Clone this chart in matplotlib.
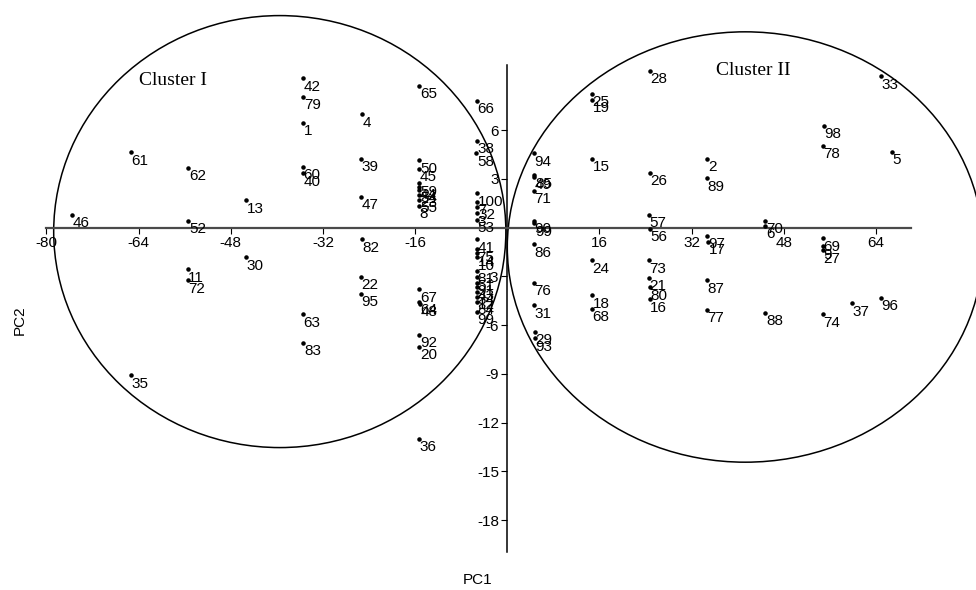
import matplotlib
matplotlib.use("Agg")
import matplotlib.pyplot as plt
from matplotlib.patches import Ellipse

# -------- DATA --------
labels = [
    "46", "61", "35",
    "62", "52", "11", "72", "13", "30",
    "42", "79", "1", "60", "40", "63", "83",
    "4", "39", "47", "82", "22", "95",
    "65", "50", "45", "59", "44", "54", "23", "55", "8",
    "67", "64", "48", "92", "20", "36",
    "66", "38", "58", "100", "7", "32", "3", "53",
    "41", "75", "14", "10", "81", "51", "91", "43", "34", "12", "84", "99",
    "94", "85", "49", "71", "90", "99", "86", "76", "31", "29", "93",
    "25", "19", "15", "24", "18", "68",
    "28", "26", "57", "56", "73", "21", "80", "16",
    "2", "89", "97", "17", "87", "77",
    "70", "6", "88",
    "98", "78", "69", "9", "27", "74",
    "37", "33", "96", "5",
]
pc1 = [
    -75.5, -65.4, -65.4,
    -55.4, -55.4, -55.5, -55.5, -45.4, -45.4,
    -35.4, -35.4, -35.4, -35.5, -35.4, -35.5, -35.4,
    -25.2, -25.4, -25.4, -25.3, -25.4, -25.4,
    -15.3, -15.3, -15.3, -15.3, -15.3, -15.3, -15.3, -15.3, -15.3,
    -15.3, -15.3, -15.2, -15.3, -15.3, -15.3,
    -5.3, -5.3, -5.4, -5.2, -5.2, -5.2, -5.3, -5.3,
    -5.3, -5.3, -5.3, -5.3, -5.3, -5.3, -5.3, -5.3, -5.3, -5.3, -5.3, -5.3,
    4.6, 4.7, 4.7, 4.6, 4.6, 4.7, 4.6, 4.6, 4.6, 4.8, 4.8,
    14.7, 14.7, 14.7, 14.7, 14.7, 14.7,
    24.7, 24.7, 24.6, 24.7, 24.6, 24.6, 24.7, 24.7,
    34.7, 34.7, 34.7, 34.9, 34.7, 34.6,
    44.8, 44.8, 44.8,
    54.9, 54.8, 54.8, 54.8, 54.8, 54.8,
    59.8, 64.8, 64.8, 66.8,
]
pc2 = [
    0.78, 4.64, -9.08,
    3.69, 0.41, -2.56, -3.24, 1.69, -1.82,
    9.20, 8.05, 6.45, 3.76, 3.35, -5.33, -7.08,
    6.98, 4.23, 1.89, -0.72, -3.02, -4.08,
    8.73, 4.15, 3.63, 2.73, 2.52, 2.32, 2.01, 1.71, 1.35,
    -3.79, -4.55, -4.68, -6.61, -7.33, -13.01,
    7.82, 5.34, 4.58, 2.12, 1.60, 1.30, 0.89, 0.47,
    -0.72, -1.33, -1.58, -1.82, -2.65, -3.05, -3.39, -3.67, -3.94, -4.25, -4.56, -5.17,
    4.58, 3.23, 3.15, 2.28, 0.43, 0.27, -1.02, -3.41, -4.78, -6.42, -6.81,
    8.25, 7.86, 4.25, -2.01, -4.16, -5.01,
    9.65, 3.39, 0.78, -0.06, -2.01, -3.08, -3.67, -4.41,
    4.25, 3.04, -0.51, -0.86, -3.24, -5.07,
    0.41, 0.12, -5.23,
    6.28, 5.03, -0.65, -1.15, -1.40, -5.33,
    -4.66, 9.32, -4.31, 4.68,
]
x_ticks = [-80, -64, -48, -32, -16, 16, 32, 48, 64]
y_ticks = [6, 3, -3, -6, -9, -12, -15, -18]

# cluster outlines: name, centre x, centre y, width, height, label x, label y
clusters = [
    ("Cluster I", -39.5, -0.24, 78.5, 26.6, -63.9, 9.05),
    ("Cluster II", 41.3, -1.19, 82.6, 26.5, 36.3, 9.65),
]

# -------- PLOT --------
fig = plt.figure(figsize=(9.76, 5.9), dpi=100)
ax = fig.add_axes([0, 0, 1, 1])
ax.set_xlim(-88.07, 81.37)
ax.set_ylim(-22.31, 14.02)

for side in ("top", "right"):
    ax.spines[side].set_visible(False)
ax.spines["left"].set_position(("data", 0))
ax.spines["bottom"].set_position(("data", 0))
ax.spines["left"].set_bounds(-20, 10)
ax.spines["bottom"].set_bounds(-80, 70)
ax.spines["left"].set_color("black")
ax.spines["left"].set_linewidth(1.1)
ax.spines["bottom"].set_color("#4a4a4a")
ax.spines["bottom"].set_linewidth(1.6)

ax.set_xticks(x_ticks)
ax.set_yticks(y_ticks)
ax.set_xticklabels([str(t) for t in x_ticks])
ax.set_yticklabels([str(t) for t in y_ticks])
ax.tick_params(direction="out", length=4, width=0.8, labelsize=11, pad=2)
for lab in ax.get_xticklabels() + ax.get_yticklabels():
    lab.set_fontfamily("Liberation Sans")

ax.scatter(pc1, pc2, s=5, color="black", zorder=3)
for lab, x, y in zip(labels, pc1, pc2):
    ax.annotate(lab, (x, y), xytext=(0.5, -1), textcoords="offset points",
                ha="left", va="top", fontsize=11, family="Liberation Sans")

for name, cx, cy, w, h, tx, ty in clusters:
    ax.add_patch(Ellipse((cx, cy), w, h, fill=False, edgecolor="black",
                         linewidth=1.1, clip_on=False))
    ax.text(tx, ty, name, fontsize=14, family="Liberation Serif",
            ha="left", va="center")

fig.text(478 / 976, 1 - 580 / 590, "PC1", ha="center", va="center",
         fontsize=11, family="Liberation Sans")
fig.text(20 / 976, 1 - 320 / 590, "PC2", ha="center", va="center",
         rotation=90, fontsize=11, family="Liberation Sans")

fig.savefig("out.png", dpi=100)
